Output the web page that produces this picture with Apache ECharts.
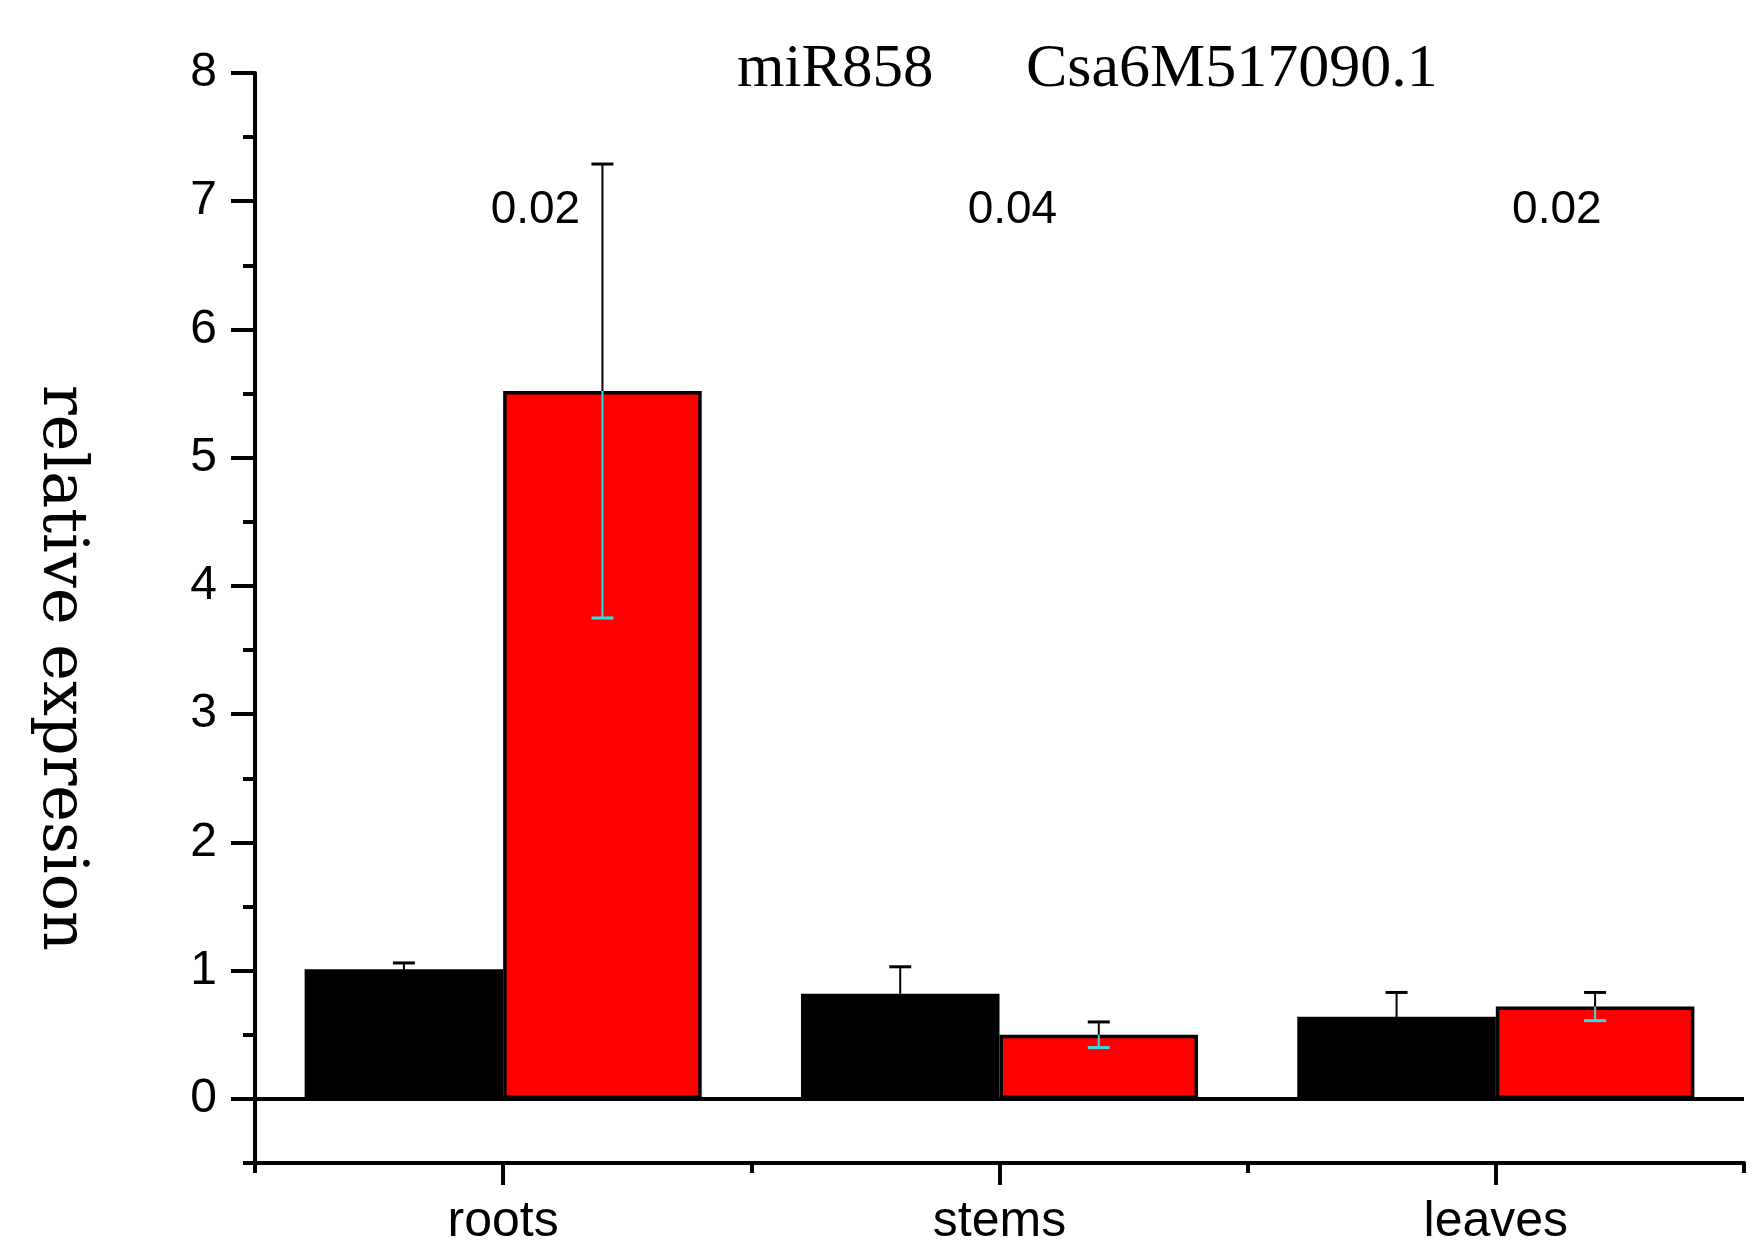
<!DOCTYPE html>
<html>
<head>
<meta charset="utf-8">
<script src="https://cdn.jsdelivr.net/npm/echarts@6/dist/echarts.min.js"></script>
<style>
html,body{margin:0;padding:0;background:#fff;}
#chart{width:1756px;height:1244px;}
</style>
</head>
<body>
<div id="chart"></div>
<script>
// ---- data ----
var categories = ['roots', 'stems', 'leaves'];
var blackValues = [1.01, 0.82, 0.64];
var blackErrors = [0.05, 0.21, 0.19];
var redValues = [5.52, 0.50, 0.72];
var redErrors = [1.77, 0.10, 0.11];
var pValues = ['0.02', '0.04', '0.02'];
var pLabelX = [0.565, 1.526, 2.623];
var pLabelY = [6.93, 6.93, 6.93];
var yMajorTicks = [0, 1, 2, 3, 4, 5, 6, 7, 8];
var yMinorTicks = [-0.5, 0.5, 1.5, 2.5, 3.5, 4.5, 5.5, 6.5, 7.5];
var xCenterTicks = [0.5, 1.5, 2.5];
var titleLeft = 'miR858';
var titleRight = 'Csa6M517090.1';
var yName = 'relative expresion';

var chart = echarts.init(document.getElementById('chart'), null, {renderer: 'canvas'});

function errRender(offsetFrac, lowerColor) {
  return function (params, api) {
    var ci = api.value(0), v = api.value(1), e = api.value(2);
    var band = api.size([1, 0])[0];
    var c = api.coord([ci, v]);
    var x = c[0] + offsetFrac * band;
    var y = c[1];
    var top = api.coord([ci, v + e])[1];
    var bot = api.coord([ci, v - e])[1];
    var half = 11;
    return {
      type: 'group',
      children: [
        {type: 'line', shape: {x1: x, y1: y, x2: x, y2: bot}, style: {stroke: lowerColor, lineWidth: 2}},
        {type: 'line', shape: {x1: x - half, y1: bot, x2: x + half, y2: bot}, style: {stroke: lowerColor, lineWidth: 3}},
        {type: 'line', shape: {x1: x, y1: y, x2: x, y2: top}, style: {stroke: '#000', lineWidth: 2}},
        {type: 'line', shape: {x1: x - half, y1: top, x2: x + half, y2: top}, style: {stroke: '#000', lineWidth: 3}}
      ]
    };
  };
}

function pRender(params, api) {
  var pt = api.coord([api.value(0), api.value(1)]);
  return {
    type: 'text',
    x: pt[0], y: pt[1],
    style: {
      text: pValues[params.dataIndex],
      fill: '#000', align: 'center', verticalAlign: 'middle',
      fontFamily: 'Liberation Sans', fontSize: 46
    }
  };
}

var blackErrData = categories.map(function (c, i) { return [i, blackValues[i], blackErrors[i]]; });
var redErrData = categories.map(function (c, i) { return [i, redValues[i], redErrors[i]]; });
var pData = pValues.map(function (p, i) { return [pLabelX[i], pLabelY[i]]; });

var option = {
  backgroundColor: '#fff',
  animation: false,
  title: [
    {text: titleLeft, left: 732, top: 34, textStyle: {fontFamily: 'Liberation Serif', fontWeight: 'normal', fontSize: 61, color: '#000'}},
    {text: titleRight, left: 1021, top: 34, textStyle: {fontFamily: 'Liberation Serif', fontWeight: 'normal', fontSize: 62, color: '#000'}}
  ],
  grid: {left: 255, right: 12, top: 73, bottom: 81, containLabel: false, outerBoundsMode: 'none'},
  xAxis: [
    {
      type: 'category', data: categories, position: 'bottom', boundaryGap: true,
      axisLine: {onZero: false, lineStyle: {color: '#000', width: 4}},
      axisTick: {show: true, alignWithLabel: false, length: 10, lineStyle: {color: '#000', width: 4}},
      axisLabel: {fontFamily: 'Liberation Sans', fontSize: 50, color: '#000', margin: 34},
      splitLine: {show: false}
    },
    {
      type: 'value', min: 0, max: 3, position: 'bottom',
      axisLine: {show: false, onZero: false},
      axisTick: {show: true, customValues: xCenterTicks, length: 22, lineStyle: {color: '#000', width: 4}},
      axisLabel: {show: false},
      splitLine: {show: false}
    }
  ],
  yAxis: [
    {
      type: 'value', min: -0.5, max: 8, position: 'left',
      axisLine: {show: true, onZero: false, lineStyle: {color: '#000', width: 4}},
      axisTick: {show: true, customValues: yMajorTicks, length: 24, lineStyle: {color: '#000', width: 4}},
      axisLabel: {customValues: yMajorTicks, fontFamily: 'Liberation Sans', fontSize: 48, color: '#000', margin: 38},
      splitLine: {show: false}
    },
    {
      type: 'value', min: -0.5, max: 8, position: 'left',
      axisLine: {show: false, onZero: false},
      axisTick: {show: true, customValues: yMinorTicks, length: 12, lineStyle: {color: '#000', width: 4}},
      axisLabel: {show: false},
      splitLine: {show: false}
    }
  ],
  series: [
    {
      type: 'bar', name: 'black', xAxisIndex: 0, yAxisIndex: 0, data: blackValues,
      barGap: '0%', barCategoryGap: '20%',
      itemStyle: {color: '#000', borderColor: '#000', borderWidth: 3},
      markLine: {
        silent: true, symbol: ['none', 'none'], label: {show: false},
        lineStyle: {color: '#000', width: 4, type: 'solid'},
        data: [{yAxis: 0}]
      }
    },
    {
      type: 'bar', name: 'red', xAxisIndex: 0, yAxisIndex: 0, data: redValues,
      barGap: '0%', barCategoryGap: '20%',
      itemStyle: {color: '#ff0000', borderColor: '#000', borderWidth: 3.5}
    },
    {
      type: 'custom', xAxisIndex: 0, yAxisIndex: 0, z: 5,
      renderItem: errRender(-0.2, '#000'), data: blackErrData
    },
    {
      type: 'custom', xAxisIndex: 0, yAxisIndex: 0, z: 5,
      renderItem: errRender(0.2, '#33dde0'), data: redErrData
    },
    {
      type: 'custom', xAxisIndex: 1, yAxisIndex: 0, z: 6, silent: true,
      renderItem: pRender, data: pData
    }
  ],
  graphic: [
    {
      type: 'text', x: 60, y: 668, rotation: -Math.PI / 2, silent: true,
      style: {text: yName, fontFamily: 'DejaVu Serif', fontSize: 62, fill: '#000', align: 'center', verticalAlign: 'middle'}
    }
  ]
};

chart.setOption(option);
</script>
</body>
</html>
